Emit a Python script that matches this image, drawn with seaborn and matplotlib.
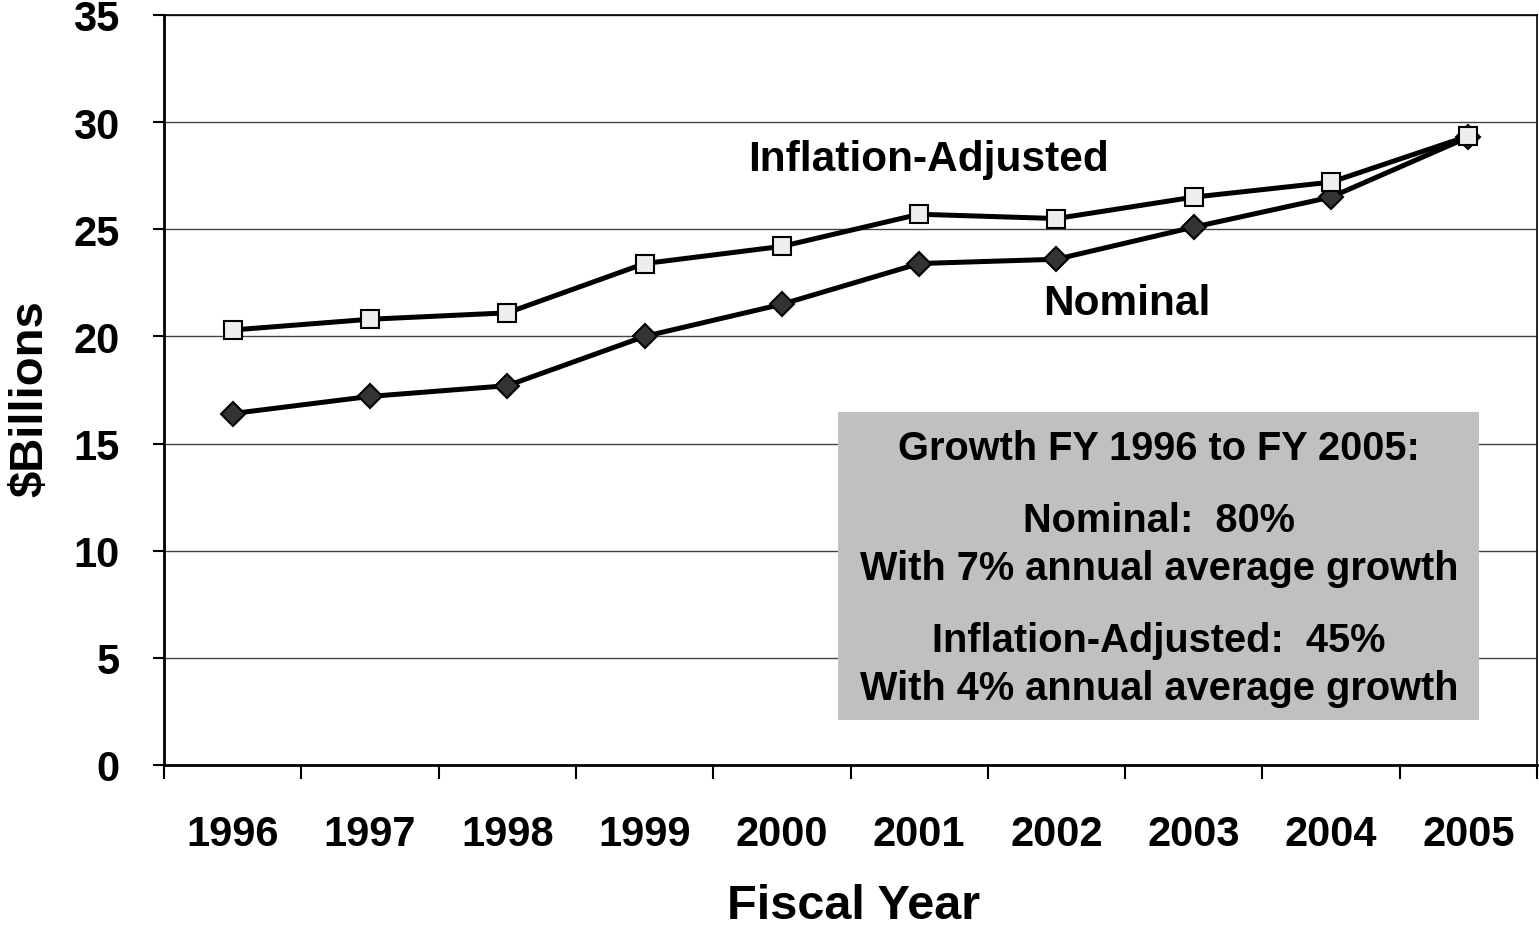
import matplotlib
matplotlib.use("Agg")
import matplotlib.pyplot as plt
import seaborn as sns
import pandas as pd
import numpy as np
from matplotlib.patches import Rectangle

years = [1996, 1997, 1998, 1999, 2000, 2001, 2002, 2003, 2004, 2005]
inflation_adjusted = [20.3, 20.8, 21.1, 23.4, 24.2, 25.7, 25.5, 26.5, 27.2, 29.35]
nominal = [16.4, 17.2, 17.7, 20.0, 21.5, 23.4, 23.6, 25.1, 26.5, 29.3]
y_ticks = [0, 5, 10, 15, 20, 25, 30, 35]

sns.set_theme(style="white")
plt.rcParams['font.family'] = ['Liberation Sans', 'DejaVu Sans']
plt.rcParams['font.weight'] = 'bold'
plt.rcParams['text.color'] = 'black'
plt.rcParams['axes.labelcolor'] = 'black'
plt.rcParams['xtick.color'] = 'black'
plt.rcParams['ytick.color'] = 'black'

fig = plt.figure(figsize=(15.39, 9.28), dpi=100)
ax = fig.add_axes([0.1066, 0.1746, 0.8921, 0.8082])

df = pd.DataFrame({"year": years * 2,
                   "value": inflation_adjusted + nominal,
                   "series": ["Inflation-Adjusted"] * len(years) + ["Nominal"] * len(years)})

sns.lineplot(data=df[df.series == "Nominal"], x="year", y="value", ax=ax,
             color="black", linewidth=3.6, marker="D", markersize=12,
             markerfacecolor="#333333", markeredgecolor="black", markeredgewidth=1.5,
             legend=False, zorder=3)
sns.lineplot(data=df[df.series == "Inflation-Adjusted"], x="year", y="value", ax=ax,
             color="black", linewidth=3.6, marker="s", markersize=13,
             markerfacecolor="#EEEEEE", markeredgecolor="black", markeredgewidth=1.5,
             legend=False, zorder=3)

ax.set_xlim(years[0] - 0.5, years[-1] + 0.5)
ax.set_ylim(0, 35)
ax.set_yticks(y_ticks)
ax.set_yticklabels([str(t) for t in y_ticks], fontsize=30, fontweight='bold')
ax.set_xticks(years)
ax.set_xticklabels([str(y) for y in years], fontsize=30, fontweight='bold')
ax.set_xticks(np.arange(years[0] - 0.5, years[-1] + 1.0, 1.0), minor=True)
ax.tick_params(axis='x', which='major', length=0, pad=35, bottom=True)
ax.tick_params(axis='x', which='minor', length=10, width=1.5, color='black',
               direction='out', bottom=True)
ax.tick_params(axis='y', which='major', length=8, width=1.5, color='black',
               direction='out', pad=24, left=True)

ax.yaxis.grid(True, color='#444444', linewidth=1.0)
ax.set_axisbelow(True)
for s in ['left', 'bottom']:
    ax.spines[s].set_color('black')
    ax.spines[s].set_linewidth(2)
for s in ['right', 'top']:
    ax.spines[s].set_color('black')
    ax.spines[s].set_linewidth(1.2)

ax.set_xlabel("Fiscal Year", fontsize=35, fontweight='bold', va='center')
ax.xaxis.set_label_coords(0.502, -0.188)
ax.set_ylabel("$Billions", fontsize=34, fontweight='bold', va='center')
ax.yaxis.set_label_coords(-0.0976, 0.49)

ax.text(2001.07, 28.28, "Inflation-Adjusted", fontsize=30.5, fontweight='bold',
        ha='center', va='center')
ax.text(2002.51, 21.56, "Nominal", fontsize=30.5, fontweight='bold',
        ha='center', va='center')

ax.add_patch(Rectangle((0.491, 0.06), 0.467, 0.411, transform=ax.transAxes,
                       facecolor='#C0C0C0', edgecolor='none', zorder=4))
box_lines = [("Growth FY 1996 to FY 2005:", 0.423),
             ("Nominal:  80%", 0.326),
             ("With 7% annual average growth", 0.262),
             ("Inflation-Adjusted:  45%", 0.167),
             ("With 4% annual average growth", 0.103)]
for txt, yy in box_lines:
    ax.text(0.7245, yy, txt, transform=ax.transAxes, fontsize=28.6, fontweight='bold',
            ha='center', va='center', zorder=5)

fig.savefig("out.png", dpi=100)
